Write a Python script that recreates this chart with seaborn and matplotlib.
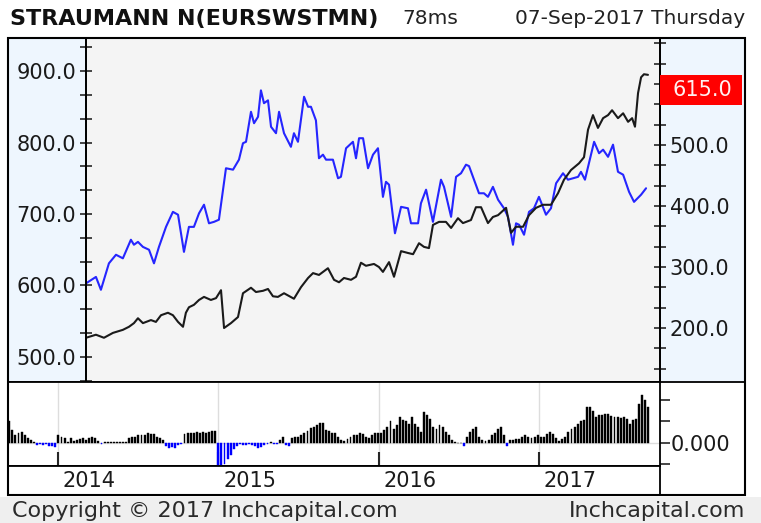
import matplotlib
matplotlib.use("Agg")
import matplotlib.pyplot as plt
import matplotlib.transforms as mtransforms
from matplotlib.patches import Rectangle
from matplotlib.ticker import FixedLocator, MultipleLocator
import numpy as np
import pandas as pd
import seaborn as sns

sns.set_style("white")
plt.rcParams["font.family"] = ["DejaVu Sans"]

# index line (left axis), time in decimal years
blue_t = [2014.175, 2014.237, 2014.268, 2014.318, 2014.362, 2014.405, 2014.455, 2014.474, 2014.499, 2014.530,
          2014.568, 2014.599, 2014.630, 2014.674, 2014.717, 2014.749, 2014.786, 2014.817, 2014.848, 2014.880,
          2014.911, 2014.942, 2014.973, 2015.004, 2015.048, 2015.092, 2015.129, 2015.154, 2015.173, 2015.204,
          2015.223, 2015.248, 2015.266, 2015.285, 2015.310, 2015.329, 2015.360, 2015.379, 2015.410, 2015.453,
          2015.472, 2015.497, 2015.535, 2015.560, 2015.578, 2015.609, 2015.628, 2015.653, 2015.672, 2015.715,
          2015.747, 2015.765, 2015.797, 2015.840, 2015.859, 2015.878, 2015.903, 2015.934, 2015.965, 2015.996,
          2016.027, 2016.046, 2016.065, 2016.102, 2016.140, 2016.183, 2016.202, 2016.246, 2016.264, 2016.296,
          2016.339, 2016.389, 2016.408, 2016.452, 2016.483, 2016.514, 2016.545, 2016.564, 2016.595, 2016.626,
          2016.657, 2016.682, 2016.713, 2016.745, 2016.782, 2016.807, 2016.838, 2016.857, 2016.876, 2016.907,
          2016.938, 2016.969, 2017.000, 2017.044, 2017.075, 2017.107, 2017.150, 2017.181, 2017.213, 2017.244,
          2017.262, 2017.287, 2017.344, 2017.375, 2017.400, 2017.431, 2017.462, 2017.493, 2017.525, 2017.562,
          2017.593, 2017.637, 2017.668]
blue_v = [603, 612, 594, 631, 643, 638, 664, 657, 661, 654, 650, 631, 654, 682, 703, 699, 647, 682, 682, 701,
          713, 687, 689, 692, 764, 762, 776, 799, 801, 843, 827, 836, 873, 855, 859, 822, 813, 843, 813, 794,
          813, 801, 864, 850, 850, 831, 778, 783, 776, 776, 750, 752, 792, 801, 778, 806, 806, 764, 783, 792,
          724, 745, 741, 673, 710, 708, 687, 687, 715, 734, 689, 748, 738, 696, 752, 757, 769, 767, 748, 729,
          729, 724, 738, 720, 708, 696, 657, 687, 685, 671, 703, 708, 724, 699, 708, 743, 757, 748, 750, 752,
          759, 748, 801, 785, 790, 780, 797, 759, 755, 731, 717, 727, 736]

# stock price (right axis)
black_t = [2014.175, 2014.237, 2014.287, 2014.343, 2014.405, 2014.443, 2014.474, 2014.499, 2014.530, 2014.580,
           2014.611, 2014.643, 2014.686, 2014.717, 2014.749, 2014.780, 2014.798, 2014.817, 2014.848, 2014.880,
           2014.911, 2014.954, 2014.986, 2015.017, 2015.036, 2015.079, 2015.123, 2015.154, 2015.204, 2015.235,
           2015.279, 2015.310, 2015.341, 2015.372, 2015.410, 2015.472, 2015.516, 2015.560, 2015.591, 2015.628,
           2015.684, 2015.722, 2015.753, 2015.784, 2015.828, 2015.859, 2015.890, 2015.921, 2015.971, 2016.002,
           2016.027, 2016.065, 2016.096, 2016.140, 2016.183, 2016.215, 2016.252, 2016.283, 2016.314, 2016.339,
           2016.377, 2016.420, 2016.452, 2016.495, 2016.526, 2016.576, 2016.607, 2016.639, 2016.682, 2016.713,
           2016.745, 2016.795, 2016.826, 2016.857, 2016.901, 2016.938, 2016.982, 2017.025, 2017.075, 2017.119,
           2017.156, 2017.200, 2017.250, 2017.281, 2017.306, 2017.337, 2017.368, 2017.400, 2017.431, 2017.456,
           2017.493, 2017.525, 2017.556, 2017.581, 2017.599, 2017.618, 2017.637, 2017.655, 2017.680]
black_v = [184, 189, 184, 192, 197, 202, 208, 216, 208, 213, 210, 221, 225, 221, 210, 202, 225, 234, 238, 246,
           251, 246, 249, 262, 200, 208, 218, 257, 266, 259, 261, 264, 252, 251, 257, 248, 267, 282, 290, 287,
           298, 279, 275, 282, 279, 284, 307, 302, 305, 300, 292, 308, 284, 326, 323, 321, 339, 333, 331, 369,
           374, 374, 364, 380, 372, 377, 398, 398, 372, 382, 385, 397, 356, 366, 366, 385, 397, 402, 402, 421,
           443, 459, 470, 480, 525, 549, 528, 544, 549, 557, 544, 552, 538, 544, 530, 585, 611, 616, 615]

# weekly oscillator, Thursdays 2013-09-12 .. 2017-09-07
osc_values = [
    20, 12, 7, 9, 10, 7, 5, 3, 0.5, -2, -1, -2, -1, -3, -3, -4,
    7, 6, 5, 1, 5, 2, 3, 4, 5, 3, 5, 6, 5, 2, -1, 1, 1, 1, 1, 0.5, 1, 1, 1, 5, 6, 6, 7, 7, 7, 9,
    8, 8, 6, 5, 3, -3, -5, -4, -5, -2, -1, 8, 9, 9, 9, 10, 9, 10, 9, 10, 11, 11,
    -22, -24, -20, -15, -11, -6, -3, -1, -2, -2, -1, -2, -3, -5, -4, -2, -1, 1, -1, -1, 3, 6, -2, -3,
    5, 6, 6, 7, 9, 11, 14, 15, 17, 19, 19, 12, 11, 9, 9, 6, 3, 2, 4, 6, 7, 7, 9, 8, 6, 5, 7, 9, 9,
    9, 12, 15, 20, 13, 17, 24, 21, 20, 18, 24, 18, 15, 10, 29, 26, 22, 15, 13, 17, 15, 10, 7, 3, 1, 0,
    0, -3, 6, 10, 13, 15, 6, 3, 2, 3, 7, 9, 13, 15, 7, -3, 3, 3, 4, 4, 6, 7, 6, 5, 6, 7,
    6, 6, 8, 10, 8, 5, 2, 4, 6, 10, 13, 15, 18, 20, 21, 33, 33, 30, 24, 26, 26, 27, 27, 25, 24, 24,
    23, 24, 22, 18, 21, 22, 36, 45, 40, 33,
]
osc_end = "2017-09-07"

years = [2014, 2015, 2016, 2017]
left_ticks = [500, 600, 700, 800, 900]
right_ticks = [200, 300, 400, 500]

W, H = 761, 523
TXT = "#1a1a1a"
PANEL = "#eef6fe"


def box(x0, y0, x1, y1):
    return [x0 / W, 1 - y1 / H, (x1 - x0) / W, (y1 - y0) / H]


def decimal_year(dates):
    days = np.where(dates.is_leap_year, 366, 365)
    return dates.year + (dates.dayofyear - 1) / days


osc_dates = pd.date_range(end=osc_end, periods=len(osc_values), freq="7D")
osc_t = decimal_year(osc_dates)

fig = plt.figure(figsize=(W / 100, H / 100), dpi=100)
fig.patch.set_facecolor("white")
fig.add_artist(Rectangle((0, 0), 1, 26 / H, transform=fig.transFigure, fc="#efefef", ec="none", zorder=-1))

# background panels behind the axis labels
ax_lp = fig.add_axes(box(8, 38, 86, 382))
ax_rp = fig.add_axes(box(660, 38, 745, 382))
for a in (ax_lp, ax_rp):
    a.set_facecolor(PANEL)
    a.set_xticks([])
    a.set_yticks([])
    for s in ("top", "left", "right"):
        a.spines[s].set_visible(False)
    a.spines["bottom"].set_color("black")
    a.spines["bottom"].set_linewidth(1.3)

# main price panel
x_lo, x_hi = 2014.175, 2017.755
ax = fig.add_axes(box(86, 38, 660, 382))
ax.set_facecolor("#f4f4f4")
sns.lineplot(x=blue_t, y=blue_v, ax=ax, color="#2525ff", lw=1.5)
ax.set_xlim(x_lo, x_hi)
ax.set_ylim(465, 946.2)
ax.yaxis.set_major_locator(FixedLocator(left_ticks))
ax.set_yticklabels([f"{v:.1f}" for v in left_ticks])
ax.yaxis.set_minor_locator(MultipleLocator(100 / 3))
ax.tick_params(axis="y", which="both", direction="inout", length=8, width=1.2,
               labelsize=15, labelcolor=TXT, pad=3, left=True)
ax.tick_params(axis="x", bottom=False, labelbottom=False)
ax.set_xlabel("")
ax.set_ylabel("")

ax_r = ax.twinx()
sns.lineplot(x=black_t, y=black_v, ax=ax_r, color="#1a1a1a", lw=1.5)
ax_r.set_ylim(111.5, 675.4)
ax_r.yaxis.set_major_locator(FixedLocator(right_ticks))
ax_r.set_yticklabels([f"{v:.1f}" for v in right_ticks])
ax_r.yaxis.set_minor_locator(MultipleLocator(100 / 3))
ax_r.tick_params(axis="y", which="both", direction="inout", length=8, width=1.2,
                 labelsize=15, labelcolor=TXT, pad=3, right=True)
ax_r.set_ylabel("")
for a in (ax, ax_r):
    for s in a.spines.values():
        s.set_color("black")
        s.set_linewidth(1.3)

# last-price tag
last = black_v[-1]
lo, hi = ax_r.get_ylim()
tag_h = 30 / 344 * (hi - lo)
blend = mtransforms.blended_transform_factory(ax_r.transAxes, ax_r.transData)
ax_r.add_patch(Rectangle((1.0, last - tag_h), 82 / 574, tag_h, transform=blend,
                         fc="#ff0000", ec="none", clip_on=False, zorder=5))
ax_r.text(1 + 12 / 574, last - tag_h / 2, f"{last:.1f}", transform=blend, ha="left", va="center",
          fontsize=15, color="#fff0f0", zorder=6, clip_on=False)

# oscillator panel
ax_o = fig.add_axes(box(8, 382, 660, 466))
ax_o.set_facecolor("white")
bar_colors = ["#000000" if v >= 0 else "#0000ff" for v in osc_values]
ax_o.bar(osc_t, osc_values, width=0.012, color=bar_colors, edgecolor=bar_colors,
         linewidth=0.3, zorder=3)
ax_o.set_xlim(2013.688, x_hi)
ax_o.set_ylim(-21.4, 56.7)
ax_o.axhline(0, color="#dddddd", lw=1, zorder=1)
ax_o.set_xticks(years)
ax_o.set_xticklabels([])
ax_o.grid(axis="x", color="#dddddd", lw=1)
ax_o.set_axisbelow(True)
ax_o.tick_params(axis="x", direction="in", length=10, width=1.5, bottom=True)
ax_o.yaxis.tick_right()
ax_o.set_yticks([-20, 0, 20, 40])
ax_o.set_yticklabels(["", "0.000", "", ""])
ax_o.tick_params(axis="y", direction="out", length=7, width=1.2, labelsize=15,
                 labelcolor=TXT, pad=1, right=True)
for s in ax_o.spines.values():
    s.set_color("black")
    s.set_linewidth(1.3)

# date strip
ax_d = fig.add_axes(box(8, 466, 660, 495))
ax_d.set_xlim(2013.688, x_hi)
ax_d.set_ylim(0, 1)
ax_d.set_xticks([])
ax_d.set_yticks([])
for s in ax_d.spines.values():
    s.set_color("black")
    s.set_linewidth(1.3)
for yr in years:
    ax_d.text(yr + 0.031, 0.47, str(yr), ha="left", va="center", fontsize=15, color=TXT)

# outer frame
fig.add_artist(Rectangle((8 / W, 1 - 495 / H), 737 / W, 457 / H, transform=fig.transFigure,
                         fill=False, ec="black", lw=1.5, zorder=10))

# header and footer
fig.text(10 / W, 1 - 19 / H, "STRAUMANN N(EURSWSTMN)", fontsize=16, fontweight="bold",
         color="#111111", ha="left", va="center")
fig.text(402 / W, 1 - 19 / H, "78ms", fontsize=14.5, color="#222222", ha="left", va="center")
fig.text(745 / W, 1 - 19 / H, "07-Sep-2017 Thursday", fontsize=14.5, color="#222222",
         ha="right", va="center")
fig.text(12 / W, 1 - 511 / H, "Copyright \u00a9 2017 Inchcapital.com", fontsize=16,
         color="#2a2a2a", ha="left", va="center")
fig.text(745 / W, 1 - 511 / H, "Inchcapital.com", fontsize=16, color="#2a2a2a",
         ha="right", va="center")

fig.savefig("out.png", dpi=100)
plt.close(fig)
